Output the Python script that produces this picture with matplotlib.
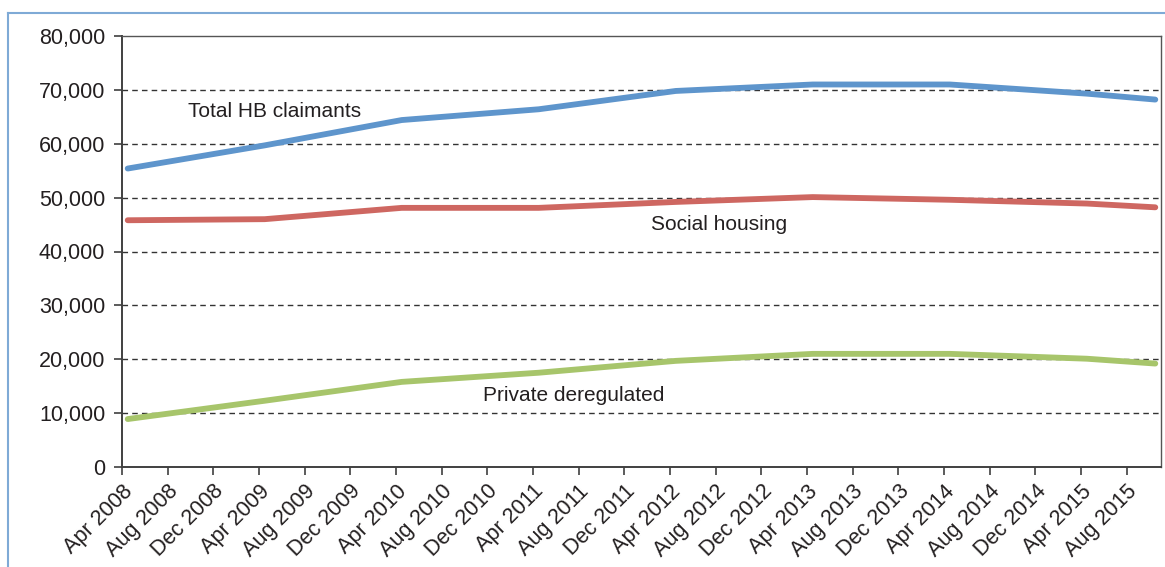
import matplotlib
matplotlib.use("Agg")
import matplotlib.pyplot as plt
from matplotlib.ticker import FuncFormatter
from matplotlib.lines import Line2D

plt.rcParams['font.family'] = ['Liberation Sans', 'DejaVu Sans']

# Monthly category axis, Apr 2008 .. Oct 2015 (91 months)
MONTHS = ["Jan", "Feb", "Mar", "Apr", "May", "Jun",
          "Jul", "Aug", "Sep", "Oct", "Nov", "Dec"]
tick_labels = ["Apr 2008", "Aug 2008", "Dec 2008", "Apr 2009", "Aug 2009",
               "Dec 2009", "Apr 2010", "Aug 2010", "Dec 2010", "Apr 2011",
               "Aug 2011", "Dec 2011", "Apr 2012", "Aug 2012", "Dec 2012",
               "Apr 2013", "Aug 2013", "Dec 2013", "Apr 2014", "Aug 2014",
               "Dec 2014", "Apr 2015", "Aug 2015"]

# points (line is straight between them)
point_months = ["Apr 2008", "Apr 2009", "Apr 2010", "Apr 2011", "Apr 2012",
                "Apr 2013", "Apr 2014", "Apr 2015", "Oct 2015"]
total_hb = [55400, 59700, 64400, 66400, 69800, 71000, 71000, 69300, 68200]
social = [45800, 46000, 48100, 48100, 49200, 50100, 49600, 48900, 48200]
private = [8900, 12300, 15800, 17500, 19700, 21000, 21000, 20100, 19200]

N_MONTHS = 91


def month_index(label):
    m, y = label.split()
    return (int(y) - 2008) * 12 + MONTHS.index(m) - 3


x_pts = [month_index(m) + 0.5 for m in point_months]
x_ticks = [month_index(t) for t in tick_labels]

fig = plt.figure(figsize=(11.65, 5.67), dpi=100)
ax = fig.add_axes([122 / 1165, 1 - 467 / 567, (1161 - 122) / 1165, (467 - 36) / 567])

ax.plot(x_pts, total_hb, color='#5E95CC', lw=4.2, solid_capstyle='round', zorder=3)
ax.plot(x_pts, social, color='#CE6761', lw=4.2, solid_capstyle='round', zorder=3)
ax.plot(x_pts, private, color='#A7C56B', lw=4.2, solid_capstyle='round', zorder=3)

ax.set_xlim(0, N_MONTHS)
ax.set_ylim(0, 80000)
ax.set_yticks(range(0, 80001, 10000))
ax.yaxis.set_major_formatter(FuncFormatter(lambda v, p: f"{int(v):,}"))
ax.set_xticks(x_ticks)
ax.set_xticklabels(tick_labels, rotation=45, ha='right', rotation_mode='anchor')

for v in range(10000, 80000, 10000):
    ax.axhline(v, color='#333333', lw=1.0, ls=(0, (4, 3)), zorder=1)

txt = '#231F20'
ax.tick_params(axis='both', labelsize=15.5, colors='#404040', labelcolor=txt,
               length=6, width=1.2, direction='out')
ax.tick_params(axis='x', pad=4)
ax.tick_params(axis='y', pad=6)
for side in ['left', 'bottom']:
    ax.spines[side].set_color('#404040')
    ax.spines[side].set_linewidth(1.4)
for side in ['top', 'right']:
    ax.spines[side].set_color('#555555')
    ax.spines[side].set_linewidth(1.0)

ax.text(month_index("Sep 2008") + 0.8, 66000, "Total HB claimants", fontsize=15, color=txt, va='center')
ax.text(month_index("Feb 2012") + 0.3, 45100, "Social housing", fontsize=15, color=txt, va='center')
ax.text(month_index("Nov 2010") + 0.6, 13200, "Private deregulated", fontsize=15, color=txt, va='center')

# light blue frame around the chart
fc = '#7FAAD6'
fig.add_artist(Line2D([8 / 1165, 8 / 1165], [0, 1 - 13 / 567], color=fc, lw=1.5,
                      transform=fig.transFigure))
fig.add_artist(Line2D([8 / 1165, 1], [1 - 13 / 567, 1 - 13 / 567], color=fc, lw=1.5,
                      transform=fig.transFigure))

fig.savefig("out.png", dpi=100)
